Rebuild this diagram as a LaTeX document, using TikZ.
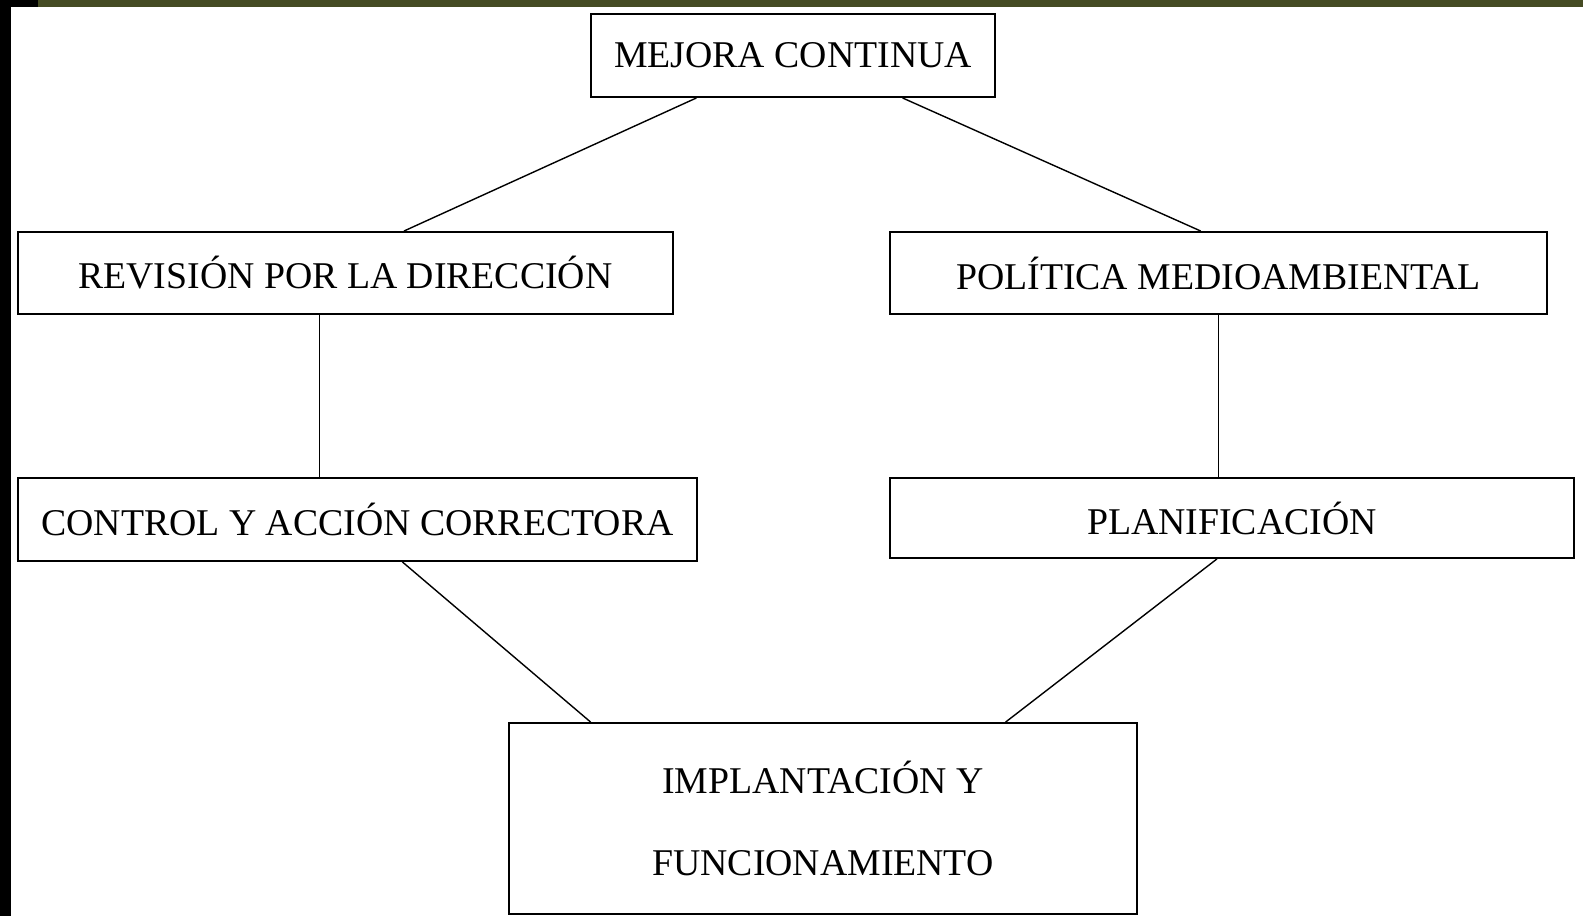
\documentclass[tikz,border=0pt]{standalone}
\usepackage{fontspec}
\setmainfont{Liberation Serif}
\usepackage{tikz}
\usetikzlibrary{calc}
\definecolor{barolive}{RGB}{69,75,35}
\tikzset{
  stage/.style={draw, line width=1.1pt, inner sep=0pt, align=center,
    font={\fontsize{21.5}{47}\selectfont}},
  link/.style={line width=0.8pt}
}

\begin{document}
\begin{tikzpicture}[x=0.02cm, y=-0.02cm]
  % Frame of the slide
  \useasboundingbox (0,0) rectangle (1583,916);
  \fill[white] (0,0) rectangle (1583,916);
  \fill[barolive] (38,0) rectangle (1583,7);
  \fill[black] (0,0) rectangle (38,7);
  \fill[black] (0,0) rectangle (11,916);

  % Draw the boxes
  \node[stage, minimum width=8.08cm, minimum height=1.66cm] (mejora) at (793,55.5) {MEJORA CONTINUA};
  \node[stage, minimum width=13.1cm, minimum height=1.64cm] (revision) at (345.5,273) {REVISIÓN POR LA DIRECCIÓN};
  \node[stage, minimum width=13.14cm, minimum height=1.64cm] (politica) at (1218.5,273) {POLÍTICA MEDIOAMBIENTAL};
  \node[stage, minimum width=13.58cm, minimum height=1.66cm] (control) at (357.5,519.5) {CONTROL Y ACCIÓN CORRECTORA};
  \node[stage, minimum width=13.68cm, minimum height=1.6cm] (planif) at (1232,518) {PLANIFICACIÓN};
  \node[stage, minimum width=12.56cm, minimum height=3.82cm] (implant) at (823,818.5) {IMPLANTACIÓN Y\\FUNCIONAMIENTO};

  % Draw the links
  \draw[link] ($(mejora.south west)!0.262!(mejora.south east)$) -- ($(revision.north west)!0.589!(revision.north east)$);
  \draw[link] ($(mejora.south west)!0.77!(mejora.south east)$) -- ($(politica.north west)!0.473!(politica.north east)$);
  \draw[link] ($(revision.south west)!0.46!(revision.south east)$) coordinate (rv) -- (rv |- control.north);
  \draw[link] (politica.south) -- (politica.south |- planif.north);
  \draw[link] ($(control.south west)!0.566!(control.south east)$) -- ($(implant.north west)!0.131!(implant.north east)$);
  \draw[link] ($(planif.south west)!0.478!(planif.south east)$) -- ($(implant.north west)!0.79!(implant.north east)$);
\end{tikzpicture}
\end{document}
